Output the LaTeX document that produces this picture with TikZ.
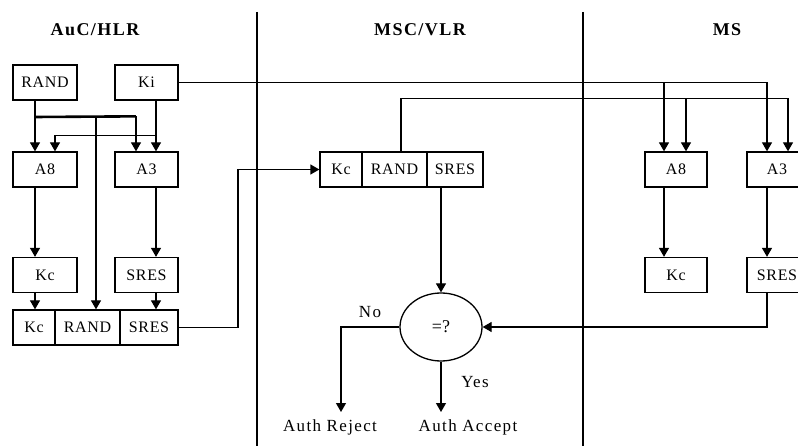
\documentclass[tikz,border=0pt]{standalone}
\usepackage{fontspec}
\setmainfont{Liberation Serif}
\usetikzlibrary{arrows.meta,shapes.geometric}
\begin{document}
\begin{tikzpicture}[x=1pt,y=-1pt,
  conn/.style={line width=1.3pt},
  arr/.style={line width=1.3pt,-{Triangle[width=10pt,length=9pt]}},
  box/.style={draw,line width=1.3pt,minimum height=35pt,inner sep=0pt,font=\fontsize{16}{18}\selectfont\addfontfeatures{LetterSpace=4}},
  title/.style={font=\fontsize{18}{20}\selectfont\addfontfeatures{LetterSpace=8}\bfseries},
  lbl/.style={font=\fontsize{17}{19}\selectfont\addfontfeatures{LetterSpace=8}},
  divider/.style={line width=2.6pt}]
\useasboundingbox (0,0) rectangle (798,446);
\clip (0,0) rectangle (798,446);
% dividers
\draw[divider] (257,12) -- (257,446);
\draw[divider] (583,12) -- (583,446);
% titles
\node[title] (t1) at (95,30) {AuC/HLR};
\node[title] (t2) at (420,30) {MSC/VLR};
\node[title] (t3) at (727,30) {MS};
% left column
\node[box,minimum width=64pt] (rand) at (45,82.5) {RAND};
\node[box,minimum width=63pt] (ki) at (146.5,82.5) {Ki};
\node[box,minimum width=64pt] (a8) at (45,169.5) {A8};
\node[box,minimum width=63pt] (a3) at (146.5,169.5) {A3};
\node[box,minimum width=64pt] (kc) at (45,275) {Kc};
\node[box,minimum width=63pt] (sres) at (146.5,275) {SRES};
\node[box,minimum width=42pt] (kcb) at (34,327.5) {Kc};
\node[box,minimum width=65pt] (randb) at (87.5,327.5) {RAND};
\node[box,minimum width=58pt] (sresb) at (149,327.5) {SRES};
% middle
\node[box,minimum width=42pt] (kcm) at (341,169.5) {Kc};
\node[box,minimum width=65pt] (randm) at (394.5,169.5) {RAND};
\node[box,minimum width=56pt] (sresm) at (455,169.5) {SRES};
\node[draw,ellipse,line width=1.3pt,minimum width=82pt,minimum height=68pt,inner sep=0pt,font=\fontsize{18}{20}\selectfont] (cmp) at (441,327) {=?};
% right
\node[box,minimum width=62pt] (a8r) at (676,169.5) {A8};
\node[box,minimum width=60pt] (a3r) at (777,169.5) {A3};
\node[box,minimum width=62pt] (kcr) at (676,275) {Kc};
\node[box,minimum width=60pt] (sresr) at (777,275) {SRES};
% labels
\node[lbl] (no) at (370,312) {No};
\node[lbl] (yes) at (475,382) {Yes};
\node[lbl] (rej) at (330,427) {Auth Reject};
\node[lbl] (acc) at (468,427) {Auth Accept};
% coordinates
\coordinate (rj) at (96,117);
\coordinate (bend) at (238,169.5);
\coordinate (rejin) at (341,412);
% left connectors
\draw[arr] ([xshift=-10pt]rand.south) -- ([xshift=-10pt]a8.north);
\draw[arr] ([xshift=-10pt]rand.south) |- ([xshift=-10.5pt,yshift=35pt]a3.north) -- ([xshift=-10.5pt]a3.north);
\draw[line width=2.6pt] ([xshift=-10pt]rand.south |- rj) -- ([xshift=-10.5pt,yshift=35pt]a3.north);
\draw[arr] (rj) -- (rj |- randb.north);
\draw[arr] ([xshift=9.5pt]ki.south) -- ([xshift=9.5pt]a3.north);
\draw[arr] ([xshift=9.5pt,yshift=-35pt]ki.south) -| ([xshift=10pt]a8.north);
\draw[arr] ([xshift=-10pt]a8.south) -- ([xshift=-10pt]kc.north);
\draw[arr] ([xshift=9.5pt]a3.south) -- ([xshift=9.5pt]sres.north);
\draw[arr] ([xshift=-10pt]kc.south) -- ([xshift=-10pt]kc.south |- kcb.north);
\draw[arr] ([xshift=9.5pt]sres.south) -- ([xshift=9.5pt]sres.south |- sresb.north);
\draw[arr] (sresb.east) -| (bend) -- (kcm.west);
% Ki to MS
\draw[arr] (ki.east) -| ([xshift=-10pt]a3r.north);
\draw[arr] ([xshift=-12pt]a8r.north |- ki.east) -- ([xshift=-12pt]a8r.north);
% RAND to MS
\draw[arr] ([xshift=6.5pt]randm.north) |- ([xshift=11pt,yshift=53pt]a3r.north) -- ([xshift=11pt]a3r.north);
\draw[arr] ([xshift=10pt,yshift=53pt]a8r.north) -- ([xshift=10pt]a8r.north);
% MS internal
\draw[arr] ([xshift=-12pt]a8r.south) -- ([xshift=-12pt]kcr.north);
\draw[arr] ([xshift=-10pt]a3r.south) -- ([xshift=-10pt]sresr.north);
\draw[arr] ([xshift=-10pt]sresr.south) |- (cmp.east);
% comparison
\draw[arr] ([xshift=-14pt]sresm.south) -- (cmp.north);
\draw[arr] (cmp.west) -| (rejin);
\draw[arr] (cmp.south) -- (cmp.south |- rejin);
\end{tikzpicture}
\end{document}
